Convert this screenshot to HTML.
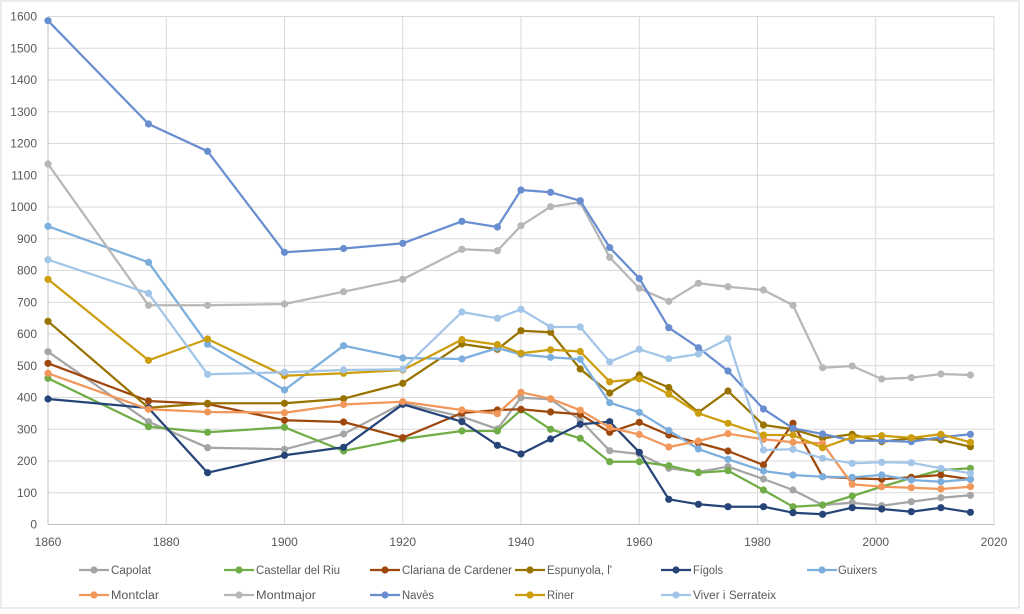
<!DOCTYPE html>
<html><head><meta charset="utf-8"><style>
html,body{margin:0;padding:0;background:#fff;}
svg{display:block;}
text{font-family:"Liberation Sans",Arial,sans-serif;fill:#595959;font-size:12px;}
.lg{font-size:11.5px;}
</style></head><body>
<svg width="1024" height="614" viewBox="0 0 1024 614" xmlns="http://www.w3.org/2000/svg">
<rect x="0" y="0" width="1024" height="614" fill="#fff"/>
<rect x="1" y="1" width="1018" height="607" fill="none" stroke="#D9D9D9" stroke-width="1"/>
<g stroke="#D9D9D9" stroke-width="1">
<line x1="48" y1="16.5" x2="994" y2="16.5"/>
<line x1="48" y1="48.25" x2="994" y2="48.25"/>
<line x1="48" y1="80" x2="994" y2="80"/>
<line x1="48" y1="111.75" x2="994" y2="111.75"/>
<line x1="48" y1="143.5" x2="994" y2="143.5"/>
<line x1="48" y1="175.25" x2="994" y2="175.25"/>
<line x1="48" y1="207" x2="994" y2="207"/>
<line x1="48" y1="238.75" x2="994" y2="238.75"/>
<line x1="48" y1="270.5" x2="994" y2="270.5"/>
<line x1="48" y1="302.25" x2="994" y2="302.25"/>
<line x1="48" y1="334" x2="994" y2="334"/>
<line x1="48" y1="365.75" x2="994" y2="365.75"/>
<line x1="48" y1="397.5" x2="994" y2="397.5"/>
<line x1="48" y1="429.25" x2="994" y2="429.25"/>
<line x1="48" y1="461" x2="994" y2="461"/>
<line x1="48" y1="492.75" x2="994" y2="492.75"/>
<line x1="166.25" y1="16.5" x2="166.25" y2="524.5"/>
<line x1="284.5" y1="16.5" x2="284.5" y2="524.5"/>
<line x1="402.75" y1="16.5" x2="402.75" y2="524.5"/>
<line x1="521" y1="16.5" x2="521" y2="524.5"/>
<line x1="639.25" y1="16.5" x2="639.25" y2="524.5"/>
<line x1="757.5" y1="16.5" x2="757.5" y2="524.5"/>
<line x1="875.75" y1="16.5" x2="875.75" y2="524.5"/>
<line x1="994" y1="16.5" x2="994" y2="524.5"/>
</g>
<line x1="48" y1="16.5" x2="48" y2="524.5" stroke="#BFBFBF" stroke-width="1"/>
<line x1="48" y1="524.5" x2="994" y2="524.5" stroke="#BFBFBF" stroke-width="1"/>

<g text-anchor="end">
<text x="37" y="20.5">1600</text>
<text x="37" y="52.3">1500</text>
<text x="37" y="84">1400</text>
<text x="37" y="115.8">1300</text>
<text x="37" y="147.5">1200</text>
<text x="37" y="179.3">1100</text>
<text x="37" y="211">1000</text>
<text x="37" y="242.8">900</text>
<text x="37" y="274.5">800</text>
<text x="37" y="306.3">700</text>
<text x="37" y="338">600</text>
<text x="37" y="369.8">500</text>
<text x="37" y="401.5">400</text>
<text x="37" y="433.3">300</text>
<text x="37" y="465">200</text>
<text x="37" y="496.8">100</text>
<text x="37" y="528.5">0</text>
</g>
<g text-anchor="middle">
<text x="48" y="546">1860</text>
<text x="166.25" y="546">1880</text>
<text x="284.5" y="546">1900</text>
<text x="402.75" y="546">1920</text>
<text x="521" y="546">1940</text>
<text x="639.25" y="546">1960</text>
<text x="757.5" y="546">1980</text>
<text x="875.75" y="546">2000</text>
<text x="994" y="546">2020</text>
</g>

<!-- Capolat -->
<g stroke="#A5A5A5" fill="#A5A5A5">
<polyline fill="none" stroke-width="2.25" stroke-linejoin="round" points="48,351.7 148.5,421.7 207.6,447.7 284.5,449.3 343.6,434 402.8,403.3 461.9,416.7 497.4,429 521,397.7 550.6,399.3 580.2,420 609.7,450.7 639.3,454 668.8,468.3 698.4,472 728,466.7 763.5,479 793,490 822.6,505 852.2,502.7 881.7,505.7 911.3,501.7 940.9,497.7 970.4,495.3"/>
<g stroke="none"><circle cx="48" cy="351.7" r="3.6"/><circle cx="148.5" cy="421.7" r="3.6"/><circle cx="207.6" cy="447.7" r="3.6"/><circle cx="284.5" cy="449.3" r="3.6"/><circle cx="343.6" cy="434" r="3.6"/><circle cx="402.8" cy="403.3" r="3.6"/><circle cx="461.9" cy="416.7" r="3.6"/><circle cx="497.4" cy="429" r="3.6"/><circle cx="521" cy="397.7" r="3.6"/><circle cx="550.6" cy="399.3" r="3.6"/><circle cx="580.2" cy="420" r="3.6"/><circle cx="609.7" cy="450.7" r="3.6"/><circle cx="639.3" cy="454" r="3.6"/><circle cx="668.8" cy="468.3" r="3.6"/><circle cx="698.4" cy="472" r="3.6"/><circle cx="728" cy="466.7" r="3.6"/><circle cx="763.5" cy="479" r="3.6"/><circle cx="793" cy="490" r="3.6"/><circle cx="822.6" cy="505" r="3.6"/><circle cx="852.2" cy="502.7" r="3.6"/><circle cx="881.7" cy="505.7" r="3.6"/><circle cx="911.3" cy="501.7" r="3.6"/><circle cx="940.9" cy="497.7" r="3.6"/><circle cx="970.4" cy="495.3" r="3.6"/></g>
</g>

<!-- Castellar del Riu -->
<g stroke="#70AD47" fill="#70AD47">
<polyline fill="none" stroke-width="2.25" stroke-linejoin="round" points="48,378.3 148.5,426.7 207.6,432.3 284.5,427.3 343.6,451 402.8,439 461.9,431 497.4,431 521,410 550.6,429.3 580.2,438.3 609.7,461.7 639.3,461.7 668.8,465.7 698.4,472.7 728,470.7 763.5,490 793,506.7 822.6,505 852.2,496 881.7,486.7 911.3,478 940.9,470 970.4,468.3"/>
<g stroke="none"><circle cx="48" cy="378.3" r="3.6"/><circle cx="148.5" cy="426.7" r="3.6"/><circle cx="207.6" cy="432.3" r="3.6"/><circle cx="284.5" cy="427.3" r="3.6"/><circle cx="343.6" cy="451" r="3.6"/><circle cx="402.8" cy="439" r="3.6"/><circle cx="461.9" cy="431" r="3.6"/><circle cx="497.4" cy="431" r="3.6"/><circle cx="521" cy="410" r="3.6"/><circle cx="550.6" cy="429.3" r="3.6"/><circle cx="580.2" cy="438.3" r="3.6"/><circle cx="609.7" cy="461.7" r="3.6"/><circle cx="639.3" cy="461.7" r="3.6"/><circle cx="668.8" cy="465.7" r="3.6"/><circle cx="698.4" cy="472.7" r="3.6"/><circle cx="728" cy="470.7" r="3.6"/><circle cx="763.5" cy="490" r="3.6"/><circle cx="793" cy="506.7" r="3.6"/><circle cx="822.6" cy="505" r="3.6"/><circle cx="852.2" cy="496" r="3.6"/><circle cx="881.7" cy="486.7" r="3.6"/><circle cx="911.3" cy="478" r="3.6"/><circle cx="940.9" cy="470" r="3.6"/><circle cx="970.4" cy="468.3" r="3.6"/></g>
</g>

<!-- Clariana de Cardener -->
<g stroke="#9E480E" fill="#9E480E">
<polyline fill="none" stroke-width="2.25" stroke-linejoin="round" points="48,363.3 148.5,401 207.6,404 284.5,420.3 343.6,422 402.8,437.7 461.9,413 497.4,410 521,409.3 550.6,412 580.2,414.3 609.7,432.3 639.3,422.3 668.8,435 698.4,443 728,451 763.5,465 793,423.3 822.6,476.7 852.2,478.3 881.7,479.3 911.3,477.3 940.9,475 970.4,479.3"/>
<g stroke="none"><circle cx="48" cy="363.3" r="3.6"/><circle cx="148.5" cy="401" r="3.6"/><circle cx="207.6" cy="404" r="3.6"/><circle cx="284.5" cy="420.3" r="3.6"/><circle cx="343.6" cy="422" r="3.6"/><circle cx="402.8" cy="437.7" r="3.6"/><circle cx="461.9" cy="413" r="3.6"/><circle cx="497.4" cy="410" r="3.6"/><circle cx="521" cy="409.3" r="3.6"/><circle cx="550.6" cy="412" r="3.6"/><circle cx="580.2" cy="414.3" r="3.6"/><circle cx="609.7" cy="432.3" r="3.6"/><circle cx="639.3" cy="422.3" r="3.6"/><circle cx="668.8" cy="435" r="3.6"/><circle cx="698.4" cy="443" r="3.6"/><circle cx="728" cy="451" r="3.6"/><circle cx="763.5" cy="465" r="3.6"/><circle cx="793" cy="423.3" r="3.6"/><circle cx="822.6" cy="476.7" r="3.6"/><circle cx="852.2" cy="478.3" r="3.6"/><circle cx="881.7" cy="479.3" r="3.6"/><circle cx="911.3" cy="477.3" r="3.6"/><circle cx="940.9" cy="475" r="3.6"/><circle cx="970.4" cy="479.3" r="3.6"/></g>
</g>

<!-- Espunyola, l' -->
<g stroke="#997300" fill="#997300">
<polyline fill="none" stroke-width="2.25" stroke-linejoin="round" points="48,321.3 148.5,407.7 207.6,403.3 284.5,403.3 343.6,398.7 402.8,383.3 461.9,344 497.4,349.3 521,330.7 550.6,332.3 580.2,369 609.7,393 639.3,375 668.8,387.5 698.4,412.3 728,391 763.5,425 793,429.3 822.6,438.3 852.2,434.3 881.7,441.7 911.3,438.3 940.9,440 970.4,446.7"/>
<g stroke="none"><circle cx="48" cy="321.3" r="3.6"/><circle cx="148.5" cy="407.7" r="3.6"/><circle cx="207.6" cy="403.3" r="3.6"/><circle cx="284.5" cy="403.3" r="3.6"/><circle cx="343.6" cy="398.7" r="3.6"/><circle cx="402.8" cy="383.3" r="3.6"/><circle cx="461.9" cy="344" r="3.6"/><circle cx="497.4" cy="349.3" r="3.6"/><circle cx="521" cy="330.7" r="3.6"/><circle cx="550.6" cy="332.3" r="3.6"/><circle cx="580.2" cy="369" r="3.6"/><circle cx="609.7" cy="393" r="3.6"/><circle cx="639.3" cy="375" r="3.6"/><circle cx="668.8" cy="387.5" r="3.6"/><circle cx="698.4" cy="412.3" r="3.6"/><circle cx="728" cy="391" r="3.6"/><circle cx="763.5" cy="425" r="3.6"/><circle cx="793" cy="429.3" r="3.6"/><circle cx="822.6" cy="438.3" r="3.6"/><circle cx="852.2" cy="434.3" r="3.6"/><circle cx="881.7" cy="441.7" r="3.6"/><circle cx="911.3" cy="438.3" r="3.6"/><circle cx="940.9" cy="440" r="3.6"/><circle cx="970.4" cy="446.7" r="3.6"/></g>
</g>

<!-- Fígols -->
<g stroke="#264478" fill="#264478">
<polyline fill="none" stroke-width="2.25" stroke-linejoin="round" points="48,399 148.5,408 207.6,472.7 284.5,455.3 343.6,447.3 402.8,404.3 461.9,421.7 497.4,445.3 521,454 550.6,439 580.2,424.3 609.7,421.7 639.3,452.3 668.8,499.3 698.4,504.3 728,506.7 763.5,506.7 793,512.7 822.6,514.3 852.2,507.7 881.7,509 911.3,511.7 940.9,507.7 970.4,512.3"/>
<g stroke="none"><circle cx="48" cy="399" r="3.6"/><circle cx="148.5" cy="408" r="3.6"/><circle cx="207.6" cy="472.7" r="3.6"/><circle cx="284.5" cy="455.3" r="3.6"/><circle cx="343.6" cy="447.3" r="3.6"/><circle cx="402.8" cy="404.3" r="3.6"/><circle cx="461.9" cy="421.7" r="3.6"/><circle cx="497.4" cy="445.3" r="3.6"/><circle cx="521" cy="454" r="3.6"/><circle cx="550.6" cy="439" r="3.6"/><circle cx="580.2" cy="424.3" r="3.6"/><circle cx="609.7" cy="421.7" r="3.6"/><circle cx="639.3" cy="452.3" r="3.6"/><circle cx="668.8" cy="499.3" r="3.6"/><circle cx="698.4" cy="504.3" r="3.6"/><circle cx="728" cy="506.7" r="3.6"/><circle cx="763.5" cy="506.7" r="3.6"/><circle cx="793" cy="512.7" r="3.6"/><circle cx="822.6" cy="514.3" r="3.6"/><circle cx="852.2" cy="507.7" r="3.6"/><circle cx="881.7" cy="509" r="3.6"/><circle cx="911.3" cy="511.7" r="3.6"/><circle cx="940.9" cy="507.7" r="3.6"/><circle cx="970.4" cy="512.3" r="3.6"/></g>
</g>

<!-- Guixers -->
<g stroke="#7CAFDD" fill="#7CAFDD">
<polyline fill="none" stroke-width="2.25" stroke-linejoin="round" points="48,226.3 148.5,262.3 207.6,344.3 284.5,390 343.6,345.7 402.8,358 461.9,359 497.4,348 521,354.5 550.6,357.3 580.2,359.3 609.7,402.7 639.3,412.3 668.8,430.5 698.4,449 728,459.3 763.5,471 793,475 822.6,476.7 852.2,477.3 881.7,475 911.3,480 940.9,481.7 970.4,479.3"/>
<g stroke="none"><circle cx="48" cy="226.3" r="3.6"/><circle cx="148.5" cy="262.3" r="3.6"/><circle cx="207.6" cy="344.3" r="3.6"/><circle cx="284.5" cy="390" r="3.6"/><circle cx="343.6" cy="345.7" r="3.6"/><circle cx="402.8" cy="358" r="3.6"/><circle cx="461.9" cy="359" r="3.6"/><circle cx="497.4" cy="348" r="3.6"/><circle cx="521" cy="354.5" r="3.6"/><circle cx="550.6" cy="357.3" r="3.6"/><circle cx="580.2" cy="359.3" r="3.6"/><circle cx="609.7" cy="402.7" r="3.6"/><circle cx="639.3" cy="412.3" r="3.6"/><circle cx="668.8" cy="430.5" r="3.6"/><circle cx="698.4" cy="449" r="3.6"/><circle cx="728" cy="459.3" r="3.6"/><circle cx="763.5" cy="471" r="3.6"/><circle cx="793" cy="475" r="3.6"/><circle cx="822.6" cy="476.7" r="3.6"/><circle cx="852.2" cy="477.3" r="3.6"/><circle cx="881.7" cy="475" r="3.6"/><circle cx="911.3" cy="480" r="3.6"/><circle cx="940.9" cy="481.7" r="3.6"/><circle cx="970.4" cy="479.3" r="3.6"/></g>
</g>

<!-- Montclar -->
<g stroke="#F1975A" fill="#F1975A">
<polyline fill="none" stroke-width="2.25" stroke-linejoin="round" points="48,373.3 148.5,409.3 207.6,412 284.5,412.7 343.6,404.5 402.8,401.7 461.9,410 497.4,413.7 521,392.3 550.6,398.7 580.2,410.2 609.7,427.5 639.3,434.5 668.8,447 698.4,441 728,433.7 763.5,439.3 793,442.3 822.6,443.3 852.2,484.3 881.7,486.7 911.3,487.7 940.9,489 970.4,486.7"/>
<g stroke="none"><circle cx="48" cy="373.3" r="3.6"/><circle cx="148.5" cy="409.3" r="3.6"/><circle cx="207.6" cy="412" r="3.6"/><circle cx="284.5" cy="412.7" r="3.6"/><circle cx="343.6" cy="404.5" r="3.6"/><circle cx="402.8" cy="401.7" r="3.6"/><circle cx="461.9" cy="410" r="3.6"/><circle cx="497.4" cy="413.7" r="3.6"/><circle cx="521" cy="392.3" r="3.6"/><circle cx="550.6" cy="398.7" r="3.6"/><circle cx="580.2" cy="410.2" r="3.6"/><circle cx="609.7" cy="427.5" r="3.6"/><circle cx="639.3" cy="434.5" r="3.6"/><circle cx="668.8" cy="447" r="3.6"/><circle cx="698.4" cy="441" r="3.6"/><circle cx="728" cy="433.7" r="3.6"/><circle cx="763.5" cy="439.3" r="3.6"/><circle cx="793" cy="442.3" r="3.6"/><circle cx="822.6" cy="443.3" r="3.6"/><circle cx="852.2" cy="484.3" r="3.6"/><circle cx="881.7" cy="486.7" r="3.6"/><circle cx="911.3" cy="487.7" r="3.6"/><circle cx="940.9" cy="489" r="3.6"/><circle cx="970.4" cy="486.7" r="3.6"/></g>
</g>

<!-- Montmajor -->
<g stroke="#B7B7B7" fill="#B7B7B7">
<polyline fill="none" stroke-width="2.25" stroke-linejoin="round" points="48,164 148.5,305.3 207.6,305.3 284.5,304 343.6,291.7 402.8,279.3 461.9,249.3 497.4,250.7 521,225.7 550.6,206.7 580.2,202.3 609.7,257.3 639.3,288.3 668.8,301.3 698.4,283.3 728,286.7 763.5,290 793,305.3 822.6,367.7 852.2,366 881.7,379 911.3,377.7 940.9,374 970.4,375"/>
<g stroke="none"><circle cx="48" cy="164" r="3.6"/><circle cx="148.5" cy="305.3" r="3.6"/><circle cx="207.6" cy="305.3" r="3.6"/><circle cx="284.5" cy="304" r="3.6"/><circle cx="343.6" cy="291.7" r="3.6"/><circle cx="402.8" cy="279.3" r="3.6"/><circle cx="461.9" cy="249.3" r="3.6"/><circle cx="497.4" cy="250.7" r="3.6"/><circle cx="521" cy="225.7" r="3.6"/><circle cx="550.6" cy="206.7" r="3.6"/><circle cx="580.2" cy="202.3" r="3.6"/><circle cx="609.7" cy="257.3" r="3.6"/><circle cx="639.3" cy="288.3" r="3.6"/><circle cx="668.8" cy="301.3" r="3.6"/><circle cx="698.4" cy="283.3" r="3.6"/><circle cx="728" cy="286.7" r="3.6"/><circle cx="763.5" cy="290" r="3.6"/><circle cx="793" cy="305.3" r="3.6"/><circle cx="822.6" cy="367.7" r="3.6"/><circle cx="852.2" cy="366" r="3.6"/><circle cx="881.7" cy="379" r="3.6"/><circle cx="911.3" cy="377.7" r="3.6"/><circle cx="940.9" cy="374" r="3.6"/><circle cx="970.4" cy="375" r="3.6"/></g>
</g>

<!-- Navès -->
<g stroke="#698ED0" fill="#698ED0">
<polyline fill="none" stroke-width="2.25" stroke-linejoin="round" points="48,20.7 148.5,124 207.6,151.3 284.5,252.3 343.6,248.5 402.8,243.3 461.9,221.3 497.4,227 521,190 550.6,192.3 580.2,200.7 609.7,247.5 639.3,278.5 668.8,327.7 698.4,347.7 728,371 763.5,409 793,428.3 822.6,434 852.2,440.7 881.7,440.7 911.3,441.7 940.9,437.3 970.4,434.3"/>
<g stroke="none"><circle cx="48" cy="20.7" r="3.6"/><circle cx="148.5" cy="124" r="3.6"/><circle cx="207.6" cy="151.3" r="3.6"/><circle cx="284.5" cy="252.3" r="3.6"/><circle cx="343.6" cy="248.5" r="3.6"/><circle cx="402.8" cy="243.3" r="3.6"/><circle cx="461.9" cy="221.3" r="3.6"/><circle cx="497.4" cy="227" r="3.6"/><circle cx="521" cy="190" r="3.6"/><circle cx="550.6" cy="192.3" r="3.6"/><circle cx="580.2" cy="200.7" r="3.6"/><circle cx="609.7" cy="247.5" r="3.6"/><circle cx="639.3" cy="278.5" r="3.6"/><circle cx="668.8" cy="327.7" r="3.6"/><circle cx="698.4" cy="347.7" r="3.6"/><circle cx="728" cy="371" r="3.6"/><circle cx="763.5" cy="409" r="3.6"/><circle cx="793" cy="428.3" r="3.6"/><circle cx="822.6" cy="434" r="3.6"/><circle cx="852.2" cy="440.7" r="3.6"/><circle cx="881.7" cy="440.7" r="3.6"/><circle cx="911.3" cy="441.7" r="3.6"/><circle cx="940.9" cy="437.3" r="3.6"/><circle cx="970.4" cy="434.3" r="3.6"/></g>
</g>

<!-- Riner -->
<g stroke="#CC9E0E" fill="#CC9E0E">
<polyline fill="none" stroke-width="2.25" stroke-linejoin="round" points="48,279.3 148.5,360.3 207.6,339 284.5,375.7 343.6,373.3 402.8,370 461.9,339.6 497.4,344.6 521,353.2 550.6,349.8 580.2,351.5 609.7,381.8 639.3,378.8 668.8,394 698.4,413.3 728,423.3 763.5,435 793,435 822.6,447.7 852.2,437.3 881.7,435.7 911.3,437.7 940.9,434.3 970.4,442.3"/>
<g stroke="none"><circle cx="48" cy="279.3" r="3.6"/><circle cx="148.5" cy="360.3" r="3.6"/><circle cx="207.6" cy="339" r="3.6"/><circle cx="284.5" cy="375.7" r="3.6"/><circle cx="343.6" cy="373.3" r="3.6"/><circle cx="402.8" cy="370" r="3.6"/><circle cx="461.9" cy="339.6" r="3.6"/><circle cx="497.4" cy="344.6" r="3.6"/><circle cx="521" cy="353.2" r="3.6"/><circle cx="550.6" cy="349.8" r="3.6"/><circle cx="580.2" cy="351.5" r="3.6"/><circle cx="609.7" cy="381.8" r="3.6"/><circle cx="639.3" cy="378.8" r="3.6"/><circle cx="668.8" cy="394" r="3.6"/><circle cx="698.4" cy="413.3" r="3.6"/><circle cx="728" cy="423.3" r="3.6"/><circle cx="763.5" cy="435" r="3.6"/><circle cx="793" cy="435" r="3.6"/><circle cx="822.6" cy="447.7" r="3.6"/><circle cx="852.2" cy="437.3" r="3.6"/><circle cx="881.7" cy="435.7" r="3.6"/><circle cx="911.3" cy="437.7" r="3.6"/><circle cx="940.9" cy="434.3" r="3.6"/><circle cx="970.4" cy="442.3" r="3.6"/></g>
</g>

<!-- Viver i Serrateix -->
<g stroke="#A2C5E8" fill="#A2C5E8">
<polyline fill="none" stroke-width="2.25" stroke-linejoin="round" points="48,259.7 148.5,293.3 207.6,374.3 284.5,372.3 343.6,370 402.8,369.2 461.9,312 497.4,318.3 521,309.3 550.6,327 580.2,327 609.7,361.8 639.3,349.3 668.8,358.7 698.4,354 728,338.7 763.5,450 793,449.3 822.6,458.3 852.2,463.3 881.7,462.3 911.3,462.7 940.9,468.3 970.4,473.3"/>
<g stroke="none"><circle cx="48" cy="259.7" r="3.6"/><circle cx="148.5" cy="293.3" r="3.6"/><circle cx="207.6" cy="374.3" r="3.6"/><circle cx="284.5" cy="372.3" r="3.6"/><circle cx="343.6" cy="370" r="3.6"/><circle cx="402.8" cy="369.2" r="3.6"/><circle cx="461.9" cy="312" r="3.6"/><circle cx="497.4" cy="318.3" r="3.6"/><circle cx="521" cy="309.3" r="3.6"/><circle cx="550.6" cy="327" r="3.6"/><circle cx="580.2" cy="327" r="3.6"/><circle cx="609.7" cy="361.8" r="3.6"/><circle cx="639.3" cy="349.3" r="3.6"/><circle cx="668.8" cy="358.7" r="3.6"/><circle cx="698.4" cy="354" r="3.6"/><circle cx="728" cy="338.7" r="3.6"/><circle cx="763.5" cy="450" r="3.6"/><circle cx="793" cy="449.3" r="3.6"/><circle cx="822.6" cy="458.3" r="3.6"/><circle cx="852.2" cy="463.3" r="3.6"/><circle cx="881.7" cy="462.3" r="3.6"/><circle cx="911.3" cy="462.7" r="3.6"/><circle cx="940.9" cy="468.3" r="3.6"/><circle cx="970.4" cy="473.3" r="3.6"/></g>
</g>

<!-- Legend -->
<g stroke-width="2.25">
<line x1="79" y1="570" x2="109" y2="570" stroke="#A5A5A5"/><circle cx="94" cy="570" r="3.6" fill="#A5A5A5"/>
<line x1="224" y1="570" x2="254" y2="570" stroke="#70AD47"/><circle cx="239" cy="570" r="3.6" fill="#70AD47"/>
<line x1="370" y1="570" x2="400" y2="570" stroke="#9E480E"/><circle cx="385" cy="570" r="3.6" fill="#9E480E"/>
<line x1="515" y1="570" x2="545" y2="570" stroke="#997300"/><circle cx="530" cy="570" r="3.6" fill="#997300"/>
<line x1="661" y1="570" x2="691" y2="570" stroke="#264478"/><circle cx="676" cy="570" r="3.6" fill="#264478"/>
<line x1="807" y1="570" x2="837" y2="570" stroke="#7CAFDD"/><circle cx="822" cy="570" r="3.6" fill="#7CAFDD"/>
<line x1="79" y1="595" x2="109" y2="595" stroke="#F1975A"/><circle cx="94" cy="595" r="3.6" fill="#F1975A"/>
<line x1="224" y1="595" x2="254" y2="595" stroke="#B7B7B7"/><circle cx="239" cy="595" r="3.6" fill="#B7B7B7"/>
<line x1="370" y1="595" x2="400" y2="595" stroke="#698ED0"/><circle cx="385" cy="595" r="3.6" fill="#698ED0"/>
<line x1="515" y1="595" x2="545" y2="595" stroke="#CC9E0E"/><circle cx="530" cy="595" r="3.6" fill="#CC9E0E"/>
<line x1="661" y1="595" x2="691" y2="595" stroke="#A2C5E8"/><circle cx="676" cy="595" r="3.6" fill="#A2C5E8"/>
</g>
<g class="lg">
<text class="lg" x="111" y="574" textLength="40" lengthAdjust="spacingAndGlyphs">Capolat</text>
<text class="lg" x="256" y="574" textLength="84" lengthAdjust="spacingAndGlyphs">Castellar del Riu</text>
<text class="lg" x="402" y="574" textLength="110" lengthAdjust="spacingAndGlyphs">Clariana de Cardener</text>
<text class="lg" x="547" y="574" textLength="65" lengthAdjust="spacingAndGlyphs">Espunyola, l'</text>
<text class="lg" x="693" y="574" textLength="30" lengthAdjust="spacingAndGlyphs">Fígols</text>
<text class="lg" x="838" y="574" textLength="39" lengthAdjust="spacingAndGlyphs">Guixers</text>
<text class="lg" x="111" y="599" textLength="48" lengthAdjust="spacingAndGlyphs">Montclar</text>
<text class="lg" x="256" y="599" textLength="60" lengthAdjust="spacingAndGlyphs">Montmajor</text>
<text class="lg" x="402" y="599" textLength="32" lengthAdjust="spacingAndGlyphs">Navès</text>
<text class="lg" x="547" y="599" textLength="27" lengthAdjust="spacingAndGlyphs">Riner</text>
<text class="lg" x="693" y="599" textLength="83" lengthAdjust="spacingAndGlyphs">Viver i Serrateix</text>
</g>
</svg>
</body></html>
